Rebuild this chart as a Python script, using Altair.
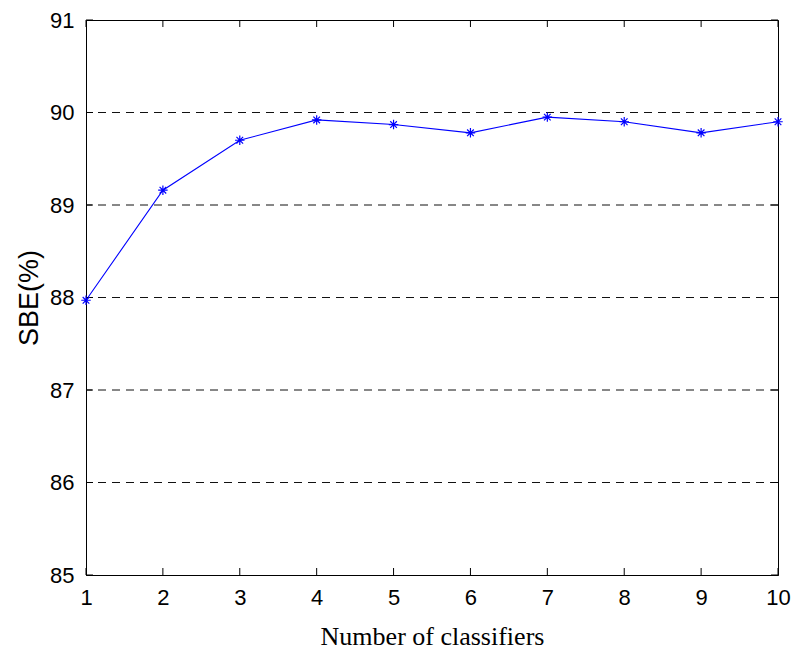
import altair as alt
import pandas as pd

classifiers = [1, 2, 3, 4, 5, 6, 7, 8, 9, 10]
sbe = [87.97, 89.16, 89.70, 89.92, 89.87, 89.78, 89.95, 89.90, 89.78, 89.90]
y_ticks = [85, 86, 87, 88, 89, 90, 91]
grid_vals = [86, 87, 88, 89, 90]

W, H = 692, 555

df = pd.DataFrame({"n": classifiers, "sbe": sbe})
grid_df = pd.DataFrame({"g": grid_vals})
xt_df = pd.DataFrame({"t": classifiers})
yt_df = pd.DataFrame({"t": y_ticks})

xscale = alt.Scale(domain=[1, 10], nice=False, zero=False)
yscale = alt.Scale(domain=[85, 91], nice=False, zero=False)

asterisk = "M-1,0L1,0M0,-1L0,1M-0.7,-0.7L0.7,0.7M-0.7,0.7L0.7,-0.7"

base_x = alt.X("n:Q", scale=xscale,
               axis=alt.Axis(values=classifiers, title="Number of classifiers", format="d"))
base_y = alt.Y("sbe:Q", scale=yscale,
               axis=alt.Axis(values=y_ticks, title="SBE(%)", format="d"))

line = alt.Chart(df).mark_line(color="#0000ff", strokeWidth=1.1).encode(x=base_x, y=base_y)

grid = alt.Chart(grid_df).mark_rule(color="#111111", strokeWidth=1, strokeDash=[8, 6]).encode(
    y=alt.Y("g:Q", scale=yscale)
)

xt_bottom = alt.Chart(xt_df).mark_rule(color="black", strokeWidth=1).encode(
    x=alt.X("t:Q", scale=xscale), y=alt.value(H), y2=alt.value(H - 7))
xt_top = alt.Chart(xt_df).mark_rule(color="black", strokeWidth=1).encode(
    x=alt.X("t:Q", scale=xscale), y=alt.value(0), y2=alt.value(7))
yt_left = alt.Chart(yt_df).mark_rule(color="black", strokeWidth=1).encode(
    y=alt.Y("t:Q", scale=yscale), x=alt.value(0), x2=alt.value(7))
yt_right = alt.Chart(yt_df).mark_rule(color="black", strokeWidth=1).encode(
    y=alt.Y("t:Q", scale=yscale), x=alt.value(W), x2=alt.value(W - 7))

pts = alt.Chart(df).mark_point(shape=asterisk, color="#0000ff", size=90, strokeWidth=1.2,
                               filled=False, opacity=1).encode(
    x=alt.X("n:Q", scale=xscale), y=alt.Y("sbe:Q", scale=yscale))

chart = alt.layer(line, grid, xt_bottom, xt_top, yt_left, yt_right, pts).properties(
    width=W, height=H,
    background="white",
    autosize=alt.AutoSizeParams(type="none"),
    padding={"left": 78, "top": 12, "right": 14, "bottom": 74},
).configure_view(stroke="black", strokeWidth=1
).configure_axis(
    grid=False, ticks=False, domain=True, domainColor="black", domainWidth=1,
    labelFontSize=22, labelFont="Liberation Sans", labelColor="black",
    labelFlush=False, labelOverlap=False, titleColor="black", titleFontWeight="normal",
).configure_axisX(
    labelPadding=12, titleFont="Liberation Serif", titleFontSize=26, titlePadding=15,
).configure_axisY(
    labelPadding=12, titleFont="Liberation Sans", titleFontSize=27, titlePadding=6,
)

chart.save("out.html", embed_options={"renderer": "svg", "actions": False})
